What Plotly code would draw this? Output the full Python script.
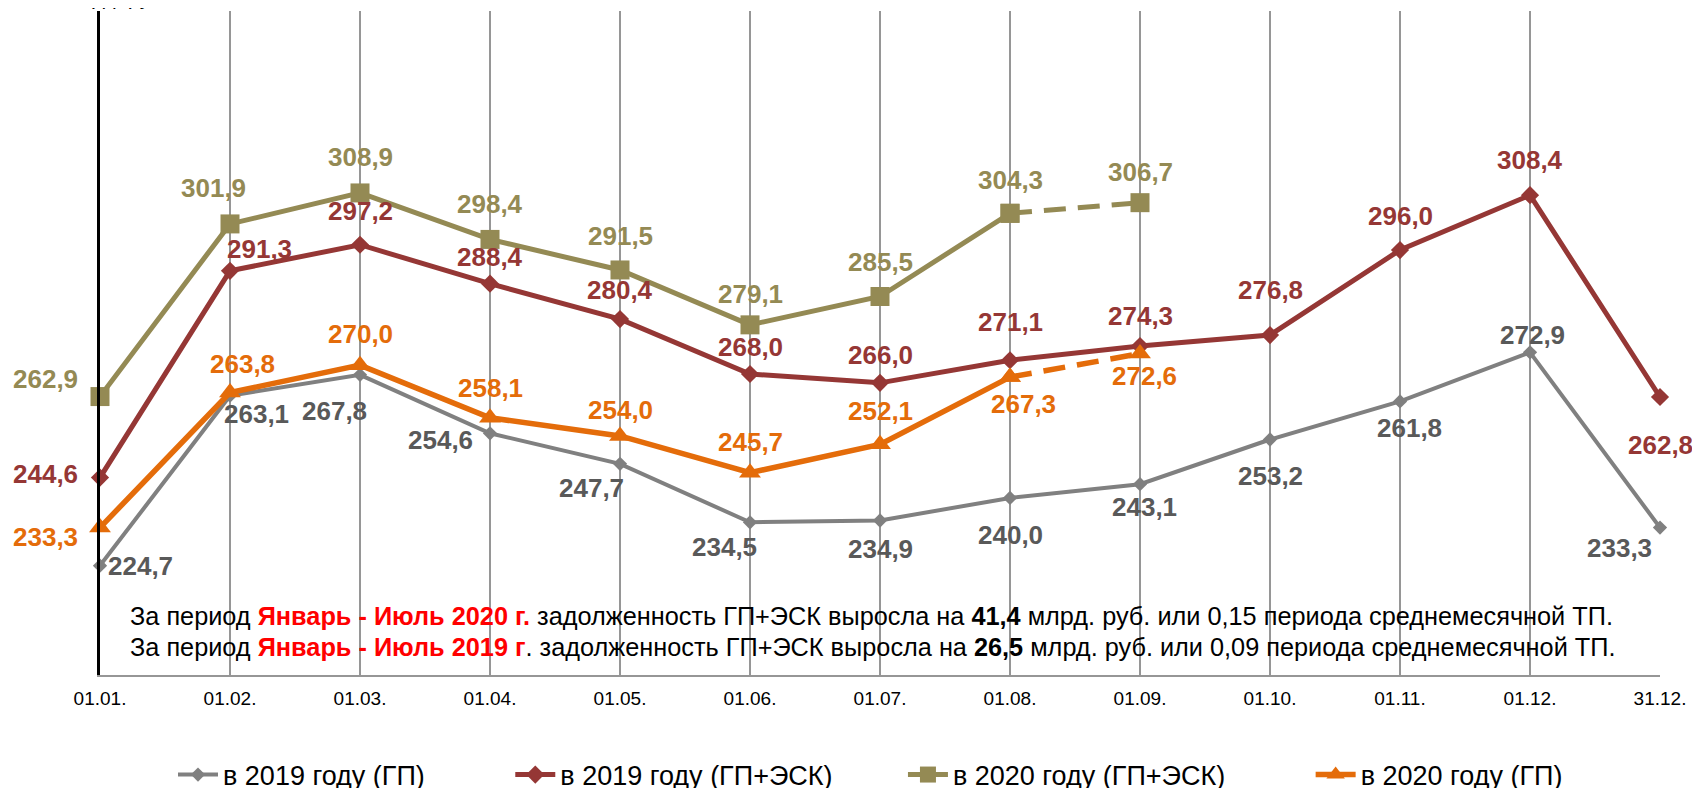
import plotly.graph_objects as go

# categories (x axis)
dates = ["01.01.", "01.02.", "01.03.", "01.04.", "01.05.", "01.06.", "01.07.",
         "01.08.", "01.09.", "01.10.", "01.11.", "01.12.", "31.12."]

# series values, bln rub
gp_2019 = [224.7, 263.1, 267.8, 254.6, 247.7, 234.5, 234.9, 240.0, 243.1, 253.2, 261.8, 272.9, 233.3]
gp_esk_2019 = [244.6, 291.3, 297.2, 288.4, 280.4, 268.0, 266.0, 271.1, 274.3, 276.8, 296.0, 308.4, 262.8]
gp_esk_2020 = [262.9, 301.9, 308.9, 298.4, 291.5, 279.1, 285.5, 304.3, 306.7]
gp_2020 = [233.3, 263.8, 270.0, 258.1, 254.0, 245.7, 252.1, 267.3, 272.6]

# 2020 values from 01.09. are shown dashed (preliminary)
n_solid_2020 = 8

GRAY = "#808080"
GRAY_TXT = "#595959"
RED = "#953735"
OLIVE = "#948A54"
ORANGE = "#E46C0A"
FONT = "Liberation Sans, Arial"

# page has an 8px body margin, so the figure is drawn 8px smaller
W, H = 1692, 780

# label offsets (xshift, yshift) in px relative to each point
off_gp_2019 = [(40, 0), (26, -18), (-26, -36), (-50, -7), (-29, -24), (-26, -25), (0, -28),
               (0, -37), (4, -23), (0, -36), (9, -27), (2, 17), (-41, -20)]
off_gp_esk_2019 = [(-55, 4), (29, 22), (0, 34), (0, 27), (0, 29), (0, 27), (0, 28),
                   (0, 38), (0, 30), (0, 45), (0, 34), (0, 35), (0, -48)]
off_gp_esk_2020 = [(-55, 18), (-17, 36), (0, 36), (0, 35), (0, 34), (0, 31), (0, 35), (0, 33), (0, 31)]
off_gp_2020 = [(-55, -9), (12, 29), (0, 31), (0, 30), (0, 26), (0, 31), (0, 33), (13, -27), (4, -22)]


def fmt(v):
    return f"{v:.1f}".replace(".", ",")


fig = go.Figure()


def pad(n):
    # trailing spaces widen the legend entries
    return "\u00a0" * n + "\u2009"


def add_series(name, values, color, symbol, msize, width, dash_from=None):
    solid = values if dash_from is None else values[:dash_from]
    fig.add_trace(go.Scatter(
        x=dates[:len(solid)], y=solid, name=name, mode="lines+markers",
        line=dict(color=color, width=width),
        marker=dict(symbol=symbol, size=msize, color=color),
        cliponaxis=False,
    ))
    if dash_from is not None:
        fig.add_trace(go.Scatter(
            x=dates[dash_from - 1:len(values)], y=values[dash_from - 1:],
            mode="lines+markers", showlegend=False, hoverinfo="skip",
            line=dict(color=color, width=width, dash="22px,12px"),
            marker=dict(symbol=symbol, size=msize, color=color),
            cliponaxis=False,
        ))


def add_labels(values, offsets, color):
    for i, (v, (dx, dy)) in enumerate(zip(values, offsets)):
        fig.add_annotation(x=dates[i], y=v, text=fmt(v), showarrow=False,
                           xshift=dx, yshift=dy,
                           font=dict(family=FONT, size=26, color=color, weight="bold"))


add_series("в 2019 году (ГП)" + pad(10), gp_2019, GRAY, "diamond", 11, 4)
add_series("в 2019 году (ГП+ЭСК)" + pad(8), gp_esk_2019, RED, "diamond", 14, 5)
add_series("в 2020 году (ГП+ЭСК)" + pad(10), gp_esk_2020, OLIVE, "square", 19, 5, dash_from=n_solid_2020)
add_series("в 2020 году (ГП)", gp_2020, ORANGE, "triangle-up", 19, 5.5, dash_from=n_solid_2020)

add_labels(gp_2019, off_gp_2019, GRAY_TXT)
add_labels(gp_esk_2019, off_gp_esk_2019, RED)
add_labels(gp_esk_2020, off_gp_esk_2020, OLIVE)
add_labels(gp_2020, off_gp_2020, ORANGE)

note_font = dict(family=FONT, size=25.3, color="black")
fig.add_annotation(
    xref="paper", yref="paper", x=0.018, y=0.089, xanchor="left", yanchor="middle", showarrow=False,
    text="За период <b><span style='color:#FF0000'>Январь - Июль 2020 г.</span></b> задолженность ГП+ЭСК "
         "выросла на <b>41,4</b> млрд. руб. или 0,15 периода среднемесячной ТП.",
    font=note_font)
fig.add_annotation(
    xref="paper", yref="paper", x=0.018, y=0.042, xanchor="left", yanchor="middle", showarrow=False,
    text="За период <b><span style='color:#FF0000'>Январь - Июль 2019 г</span></b>. задолженность ГП+ЭСК "
         "выросла на <b>26,5</b> млрд. руб. или 0,09 периода среднемесячной ТП.",
    font=note_font)

# unit caption, mostly cut off at the top edge
fig.add_annotation(xref="paper", yref="paper", x=-0.025, y=1.0, xanchor="left", yanchor="bottom",
                   yshift=0, showarrow=False, text="млрд. руб.",
                   font=dict(family=FONT, size=22, color="black"))

fig.update_layout(
    width=W, height=H,
    margin=dict(l=92, r=40, t=3, b=113, autoexpand=False),
    plot_bgcolor="white", paper_bgcolor="white",
    font=dict(family=FONT, color="black"),
    xaxis=dict(
        type="category", range=[0, 12], showgrid=True, gridcolor="#969696", gridwidth=1.5,
        showline=True, linecolor="#969696", linewidth=2, ticks="",
        tickfont=dict(size=19, color="black"), ticklabelstandoff=5,
        zeroline=False, automargin=False,
    ),
    yaxis=dict(
        range=[200, 350], showgrid=False, showticklabels=False, ticks="",
        showline=True, linecolor="black", linewidth=3, zeroline=False, automargin=False,
    ),
    legend=dict(
        orientation="h", xref="container", yref="container",
        x=165 / W, xanchor="left", y=1 - 767 / H, yanchor="middle",
        font=dict(size=27, color="black"), itemwidth=40,
    ),
    showlegend=True,
)

fig.write_html("out.html")
